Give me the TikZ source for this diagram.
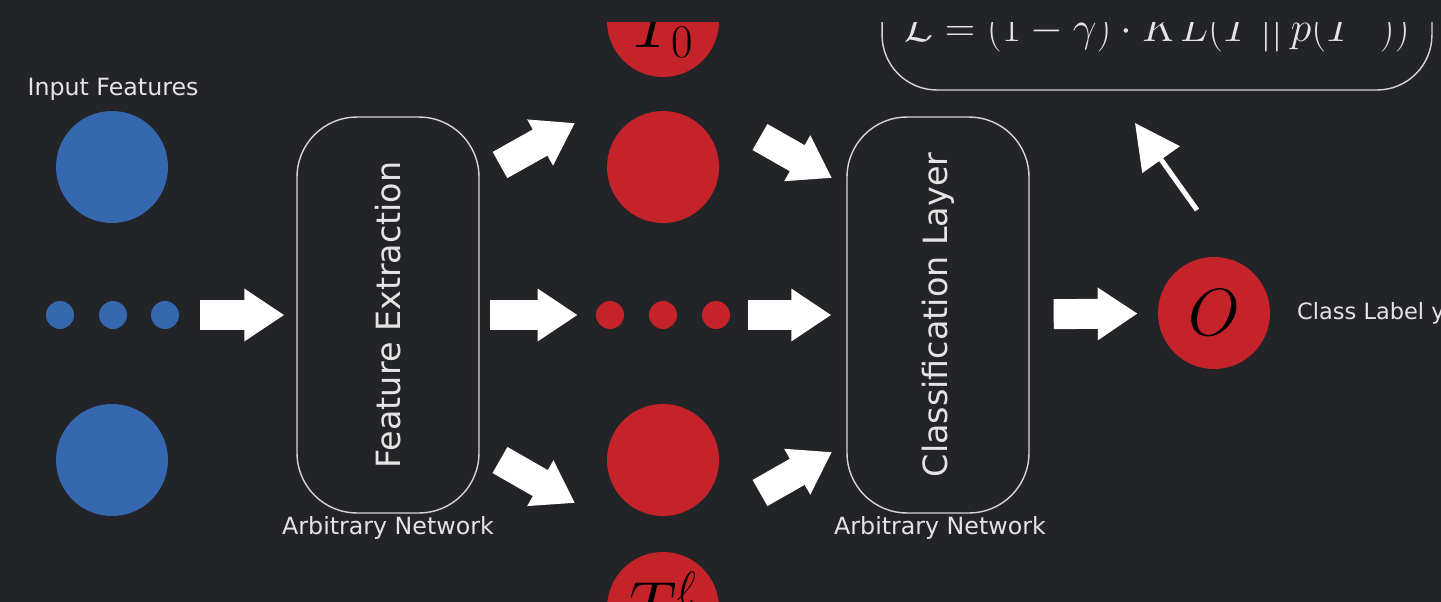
\RequirePackage{fix-cm}
\documentclass[tikz,border=0pt]{standalone}
\usepackage{fontspec}
\newfontfamily\diagfont{DejaVu Sans}
\usetikzlibrary{arrows.meta}
\definecolor{bgdark}{HTML}{232428}
\definecolor{nodered}{HTML}{C5232A}
\definecolor{nodeblue}{HTML}{3568AF}
\definecolor{linegray}{HTML}{D6D6D6}
\definecolor{textgray}{HTML}{E4E4E4}
\begin{document}
\begin{tikzpicture}[x=0.02cm,y=-0.02cm,
  bignode/.style={circle,minimum size=2.24cm,inner sep=0pt},
  dotnode/.style={circle,minimum size=0.56cm,inner sep=0pt},
  netbox/.style={draw=linegray,line width=0.8pt,rounded corners=1.2cm,minimum width=3.64cm,minimum height=7.92cm},
  fatarrow/.style={white,line width=0.6cm,-{Triangle[length=0.8cm,width=1.0cm]}},
  smalltext/.style={text=textgray,font=\diagfont\fontsize{13.5}{15}\selectfont},
  bigtext/.style={text=textgray,font=\diagfont\fontsize{19}{22}\selectfont,rotate=90},
  mathlabel/.style={font=\fontsize{38}{44}\selectfont}]
\useasboundingbox (0,0) rectangle (1441,602);
\fill[bgdark] (0,0) rectangle (1441,602);
\clip (0,22) rectangle (1441,602);
% input features
\node[smalltext] (inlabel) at (113,89) {Input Features};
\node[bignode,fill=nodeblue] (in1) at (112,167) {};
\foreach \x [count=\i] in {60,113,165}
  \node[dotnode,fill=nodeblue] (ind\i) at (\x,315) {};
\node[bignode,fill=nodeblue] (in2) at (112,460) {};
% feature extraction
\node[netbox] (feat) at (388,315) {};
\node[bigtext] (featlabel) at (feat.center) {Feature Extraction};
\node[smalltext] (featnet) at (388,528) {Arbitrary Network};
% hidden representations
\node[bignode,fill=nodered] (t0) at (663,21) {};
\node[mathlabel] (t0label) at (663,30) {$T_0$};
\node[bignode,fill=nodered] (h1) at (663,167) {};
\foreach \x [count=\i] in {610,663,716}
  \node[dotnode,fill=nodered] (hd\i) at (\x,315) {};
\node[bignode,fill=nodered] (h2) at (663,460) {};
\node[bignode,fill=nodered] (tl) at (663,608) {};
\node[mathlabel] (tllabel) at (663,600) {$T^{\ell}$};
% classification
\node[netbox] (cls) at (938,315) {};
\node[bigtext] (clslabel) at (cls.center) {Classification Layer};
\node[smalltext] (clsnet) at (940,528) {Arbitrary Network};
% output
\node[bignode,fill=nodered,mathlabel] (out) at (1214,313) {$O$};
\node[smalltext,font=\diagfont\fontsize{12.8}{15}\selectfont,anchor=west] (outlabel) at (1291,313) {Class Label y};
% loss
\node[draw=linegray,line width=0.8pt,rounded corners=1.1cm,minimum width=11cm,minimum height=2.8cm] (lossbox) at (1157,20) {};
\node[text=textgray,font=\fontsize{24}{28}\selectfont,anchor=base] (loss) at (1157,41) {$\mathcal{L} = (1-\gamma)\cdot KL(T \,||\, p(T^{-}))$};
% arrows
\coordinate (fa1) at (500,165);
\coordinate (fb1) at (575,123);
\coordinate (fa2) at (500,460);
\coordinate (fb2) at (575,503);
\coordinate (ca1) at (760,137);
\coordinate (cb1) at (832,178);
\coordinate (ca2) at (760,493);
\coordinate (cb2) at (832,452);
\coordinate (la) at (1197,210);
\coordinate (lb) at (1135,123);
\draw[fatarrow,shorten <=0.42cm,shorten >=0.24cm] (ind3) -- (feat);
\draw[fatarrow,shorten <=0.2cm,shorten >=0.36cm] (feat) -- (hd1);
\draw[fatarrow] (fa1) -- (fb1);
\draw[fatarrow] (fa2) -- (fb2);
\draw[fatarrow,shorten <=0.36cm,shorten >=0.3cm] (hd3) -- (cls);
\draw[fatarrow] (ca1) -- (cb1);
\draw[fatarrow] (ca2) -- (cb2);
\draw[fatarrow,shorten <=0.48cm,shorten >=0.4cm] (cls) -- (out);
\draw[white,line width=0.1cm,-{Triangle[length=0.9cm,width=0.9cm]}] (la) -- (lb);
\end{tikzpicture}
\end{document}
